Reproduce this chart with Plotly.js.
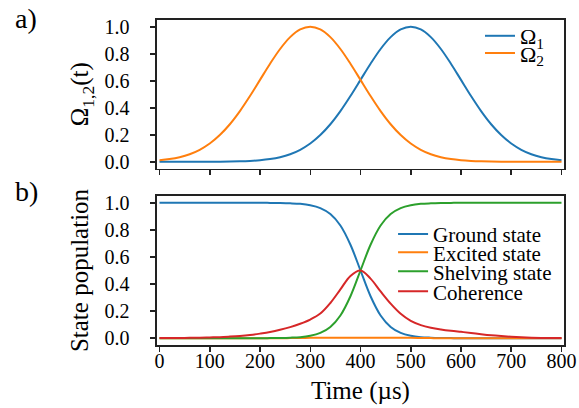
<!DOCTYPE html>
<html><head><meta charset="utf-8">
<script src="https://cdn.plot.ly/plotly-3.0.1.min.js"></script>
<style>html,body{margin:0;padding:0;background:#fff}#chart{width:579px;height:408px}</style>
</head><body><div id="chart"></div>
<script>
// time axis (µs)
const time = [0,20,40,60,80,100,120,140,160,180,200,220,240,260,280,300,320,340,360,380,400,
  420,440,460,480,500,520,540,560,580,600,620,640,660,680,700,720,740,760,780,800];
// a) pulse amplitudes
const omega1 = [0.0000,0.0000,0.0000,0.0001,0.0001,0.0003,0.0007,0.0015,0.0031,0.0060,0.0111,
  0.0198,0.0340,0.0561,0.0889,0.1353,0.1979,0.2780,0.3753,0.4868,0.6065,0.7261,0.8353,0.9231,
  0.9802,1.0000,0.9802,0.9231,0.8353,0.7261,0.6065,0.4868,0.3753,0.2780,0.1979,0.1353,0.0889,
  0.0561,0.0340,0.0198,0.0111];
const omega2 = [0.0111,0.0198,0.0340,0.0561,0.0889,0.1353,0.1979,0.2780,0.3753,0.4868,0.6065,
  0.7261,0.8353,0.9231,0.9802,1.0000,0.9802,0.9231,0.8353,0.7261,0.6065,0.4868,0.3753,0.2780,
  0.1979,0.1353,0.0889,0.0561,0.0340,0.0198,0.0111,0.0060,0.0031,0.0015,0.0007,0.0003,0.0001,
  0.0000,0.0000,0.0000,0.0000];
// b) populations
const ground = [1.000,1.000,1.000,1.000,1.000,1.000,1.000,1.000,1.000,1.000,1.000,
  0.999,0.998,0.996,0.992,0.982,0.961,0.917,0.832,0.690,0.500,0.310,0.168,0.083,
  0.039,0.018,0.008,0.004,0.002,0.001,0.000,0.000,0.000,0.000,0.000,0.000,0.000,
  0.000,0.000,0.000,0.000];
const excited = [0,0,0,0,0,0,0,0,0,0,0,0,0,0.001,0.002,0.003,0.004,0.004,0.004,0.004,0.004,
  0.004,0.004,0.004,0.003,0.003,0.002,0.001,0,0,0,0,0,0,0,0,0,0,0,0,0];
const shelving = [0.000,0.000,0.000,0.000,0.000,0.000,0.000,0.000,0.000,0.000,0.000,
  0.001,0.002,0.004,0.008,0.018,0.039,0.083,0.168,0.310,0.500,0.690,0.832,0.917,
  0.961,0.982,0.992,0.996,0.998,0.999,1.000,1.000,1.000,1.000,1.000,1.000,1.000,
  1.000,1.000,1.000,1.000];
const coherence = [0.001,0.001,0.002,0.003,0.004,0.006,0.008,0.012,0.017,0.024,0.034,
  0.046,0.062,0.082,0.107,0.138,0.182,0.260,0.360,0.460,0.500,0.440,0.345,0.255,
  0.180,0.128,0.097,0.078,0.065,0.055,0.047,0.039,0.030,0.022,0.016,0.011,0.007,
  0.004,0.002,0.001,0.001];
const xTicks = [0,100,200,300,400,500,600,700,800];
const yTicks = [0,0.2,0.4,0.6,0.8,1.0];
const yTickText = ['0.0','0.2','0.4','0.6','0.8','1.0'];
const names = ['Ω<sub>1</sub>','Ω<sub>2</sub>','Ground state','Excited state','Shelving state','Coherence'];
const colors = ['#1f77b4','#ff7f0e','#2ca02c','#d62728'];

const FONT = '"Liberation Serif","Times New Roman",serif';
const INK = '#222';

function tr(y, name, color, xa, ya, leg) {
  return {x: time, y: y, name: name, type: 'scatter', mode: 'lines',
    line: {color: color, width: 2, shape: 'spline', smoothing: 1},
    xaxis: xa, yaxis: ya, legend: leg, showlegend: true, hoverinfo: 'skip'};
}
const data = [
  tr(omega1, names[0], colors[0], 'x', 'y', 'legend'),
  tr(omega2, names[1], colors[1], 'x', 'y', 'legend2'),
  tr(ground, names[2], colors[0], 'x2', 'y2', 'legend3'),
  tr(excited, names[3], colors[1], 'x2', 'y2', 'legend4'),
  tr(shelving, names[4], colors[2], 'x2', 'y2', 'legend5'),
  tr(coherence, names[5], colors[3], 'x2', 'y2', 'legend6')
];

const axBase = {showline: true, mirror: true, linecolor: INK, linewidth: 1.6,
  ticks: 'outside', ticklen: 5, tickwidth: 1.5, tickcolor: INK,
  showgrid: false, zeroline: false, tickfont: {family: FONT, size: 20, color: '#000'}};

function leg(y, size) {
  return {x: 0, y: y, xanchor: 'left', yanchor: 'middle', bgcolor: 'rgba(0,0,0,0)',
    borderwidth: 0, itemwidth: 30, tracegroupgap: 0,
    font: {family: FONT, size: size, color: '#000'}};
}
const L1 = leg(0.9508, 22); L1.x = 0.7936;
const L2 = leg(0.8975, 22); L2.x = 0.7936;
const L3 = leg(0.3406, 21); L3.x = 0.580;
const L4 = leg(0.2840, 21); L4.x = 0.580;
const L5 = leg(0.2255, 21); L5.x = 0.580;
const L6 = leg(0.1640, 21); L6.x = 0.580;

const layout = {
  width: 579, height: 408,
  margin: {l: 157, r: 15, t: 20, b: 63},
  paper_bgcolor: '#fff', plot_bgcolor: '#fff',
  font: {family: FONT, color: '#000'},
  xaxis: Object.assign({}, axBase, {domain: [0, 1], anchor: 'y', range: [-5, 805],
    tickvals: xTicks, showticklabels: false}),
  yaxis: Object.assign({}, axBase, {domain: [0.543, 1], anchor: 'x', range: [-0.05, 1.05],
    tickvals: yTicks, ticktext: yTickText, ticklabelstandoff: 17,
    title: {text: 'Ω<sub>1,2</sub>(t)', font: {family: FONT, size: 25}, standoff: 8}}),
  xaxis2: Object.assign({}, axBase, {domain: [0, 1], anchor: 'y2', range: [-5, 805],
    tickvals: xTicks, ticktext: xTicks.map(String), ticklabelstandoff: -8,
    title: {text: 'Time (µs)', font: {family: FONT, size: 25}, standoff: 11}}),
  yaxis2: Object.assign({}, axBase, {domain: [0, 0.4585], anchor: 'x2', range: [-0.05, 1.05],
    tickvals: yTicks, ticktext: yTickText, ticklabelstandoff: 17,
    title: {text: 'State population', font: {family: FONT, size: 25}, standoff: 8}}),
  legend: L1, legend2: L2, legend3: L3, legend4: L4, legend5: L5, legend6: L6,
  annotations: [
    {text: 'a)', xref: 'paper', yref: 'paper', x: -0.354, y: 1.006, xanchor: 'left', yanchor: 'middle',
     showarrow: false, font: {family: FONT, size: 28, color: '#000'}},
    {text: 'b)', xref: 'paper', yref: 'paper', x: -0.354, y: 0.4708, xanchor: 'left', yanchor: 'middle',
     showarrow: false, font: {family: FONT, size: 28, color: '#000'}}
  ]
};
Plotly.newPlot('chart', data, layout, {displayModeBar: false, staticPlot: true});
</script>
</body></html>
